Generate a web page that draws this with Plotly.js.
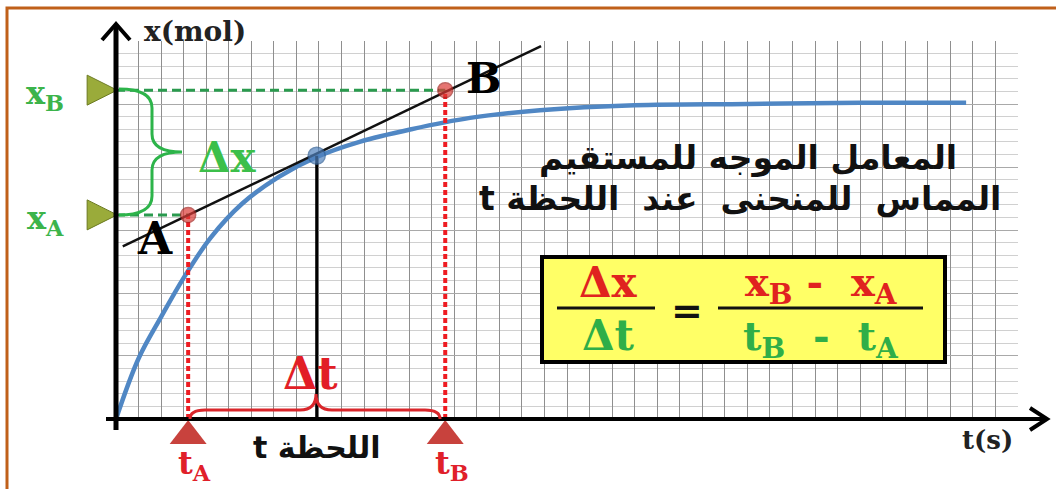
<!DOCTYPE html>
<html>
<head>
<meta charset="utf-8">
<script src="https://cdn.plot.ly/plotly-3.0.1.min.js"></script>
<style>
  html, body { margin: 0; padding: 0; background: #fff; }
  #chart { width: 1056px; height: 489px; }
</style>
</head>
<body>
<div id="chart"></div>
<script>
// values, in grid cells (t: one column, x: one row)
const curveT = [0, 1.0, 2.0, 3.0, 4.2, 5.6, 7.2, 8.9, 10.8, 13.1, 15.7, 18.8, 23.0, 28.0, 33.0, 37.7];
const curveX = [0, 4.8, 8.1, 11.2, 14.4, 17.1, 19.2, 20.8, 22.0, 23.0, 23.9, 24.5, 24.9, 25.0, 25.1, 25.1];

const tangentT = [0.3, 18.85];
const tangentX = [13.7, 29.6];

// A, tangent point, B
const pointT = [3.2, 8.9, 14.6];
const pointX = [16.2, 20.9, 26.1];
const pointColors = ['#dc3b37', '#4f81bd', '#dc3b37'];
const pointSizes = [15, 17, 15];

const gridCols = 40;
const gridRows = 30;

// picture geometry (pixels)
const W = 1056, H = 489;
const OX = 116, OY = 419;       // origin of the grid
const CW = 22.55, CH = 12.6;    // cell size
const tx = px => (px - OX) / CW;
const xy = py => (OY - py) / CH;
const pt = (px, py) => tx(px) + ',' + xy(py);

const SERIF = 'DejaVu Serif, serif';
const ARABIC = 'DejaVu Sans, sans-serif';
const RED = '#e0221f';
const GREEN = '#2fae48';
const NB = '\u00a0';

const tA = pointT[0], tT = pointT[1], tB = pointT[2];
const xA = pointX[0], xT = pointX[1], xB = pointX[2];

const traces = [
  { // the curve x(t)
    x: curveT, y: curveX, xaxis: 'x', yaxis: 'y', mode: 'lines',
    line: { color: '#5087c4', width: 4.5, shape: 'spline', smoothing: 1 },
    hoverinfo: 'skip'
  },
  { // drop from the tangent point
    x: [tT, tT], y: [0, xT], xaxis: 'x2', yaxis: 'y2', mode: 'lines',
    line: { color: '#000', width: 3 }, hoverinfo: 'skip'
  },
  { // dashed drops from A and B
    x: [tA, tA, null, tB, tB], y: [0, xA, null, 0, xB], xaxis: 'x2', yaxis: 'y2', mode: 'lines',
    line: { color: '#ee1c22', width: 4, dash: '5px,3px' }, hoverinfo: 'skip'
  },
  { // dashed projections on the x axis
    x: [0, tA, null, 0, tB], y: [xA, xA, null, xB, xB], xaxis: 'x2', yaxis: 'y2', mode: 'lines',
    line: { color: '#2a9a4e', width: 3, dash: '9px,5px' }, hoverinfo: 'skip'
  },
  { // tangent
    x: tangentT, y: tangentX, xaxis: 'x2', yaxis: 'y2', mode: 'lines',
    line: { color: '#111', width: 2.5 }, hoverinfo: 'skip'
  },
  { // A, tangent point, B
    x: pointT, y: pointX, xaxis: 'x2', yaxis: 'y2', mode: 'markers',
    marker: { color: pointColors, size: pointSizes, line: { color: ['#a52622', '#2f5f96', '#a52622'], width: 1.5 } },
    hoverinfo: 'skip'
  },
  { // red markers under t_A and t_B
    x: [tA, tB], y: [-1.35, -1.35], xaxis: 'x2', yaxis: 'y2', mode: 'markers',
    marker: { symbol: 'triangle-up', size: 32, color: '#c8423d', line: { width: 0 } },
    hoverinfo: 'skip'
  },
  { // olive markers at x_A and x_B
    x: [0.05, 0.05], y: [xA, xB], xaxis: 'x2', yaxis: 'y2', mode: 'markers',
    marker: { symbol: 'arrow-right', size: 30, color: '#9aab3a', line: { color: '#6b7a20', width: 1 } },
    hoverinfo: 'skip'
  }
];

function label(text, x, y, size, color, family, extra) {
  return Object.assign({
    xref: 'x2', yref: 'y2', x: x, y: y, text: text, showarrow: false,
    xanchor: 'center', yanchor: 'middle',
    font: { family: family || SERIF, size: size, color: color, weight: 'bold' }
  }, extra || {});
}

const annotations = [
  label('x(mol)', tx(195), xy(31), 28, '#222'),
  label('t(s)', tx(987), xy(440), 26, '#222'),
  label('x<sub>B</sub>', tx(45), xB, 32, '#3cb44b', SERIF, { yshift: -5 }),
  label('x<sub>A</sub>', tx(45), xA, 32, '#3cb44b', SERIF, { yshift: -5 }),
  label('\u0394x', tx(227), xy(157), 42, '#3cbf4a'),
  label('A', tx(155), xy(238), 44, '#000'),
  label('B', tx(484), xy(78), 42, '#000'),
  label('\u0394t', tx(310), xy(373), 44, '#e21e26'),
  label('t<sub>A</sub>', tA, xy(465), 32, '#e0202a', SERIF, { xshift: 6 }),
  label('t<sub>B</sub>', tB, xy(465), 32, '#e0202a', SERIF, { xshift: 7 }),
  label('\u202Bاللحظة t\u202C', tT, xy(447), 30, '#111', ARABIC),
  label('\u202Bالمعامل الموجه للمستقيم\u202C', tx(748), xy(158), 33, '#111', ARABIC),
  label('\u202Bالمماس  للمنحنى  عند  اللحظة t\u202C', tx(740), xy(198), 33, '#111', ARABIC),
  // formula in the box
  label('\u0394x', tx(608), xy(282), 42, RED),
  label('\u0394t', tx(608), xy(335), 42, GREEN),
  label('=', tx(687), xy(310), 38, '#111'),
  label('x<sub>B</sub>' + NB + '-' + NB + NB + 'x<sub>A</sub>', tx(821), xy(284), 40, RED),
  label('t<sub>B</sub>' + NB + NB + '-' + NB + NB + 't<sub>A</sub>', tx(821), xy(338), 40, GREEN)
];

function seg(x0, y0, x1, y1, color, width) {
  return {
    type: 'line', xref: 'x2', yref: 'y2', layer: 'above',
    x0: tx(x0), y0: xy(y0), x1: tx(x1), y1: xy(y1),
    line: { color: color, width: width }
  };
}

function path(d, color, width) {
  return { type: 'path', xref: 'x2', yref: 'y2', layer: 'above', path: d, line: { color: color, width: width } };
}

const shapes = [
  // outer frame
  { type: 'rect', xref: 'x2', yref: 'y2', layer: 'above',
    x0: tx(7), y0: xy(8), x1: tx(1080), y1: xy(520),
    line: { color: '#c0601a', width: 3 } },
  // axes with open arrow heads
  seg(116, 430, 116, 25, '#000', 5),
  path('M' + pt(102, 40) + ' L' + pt(116, 24) + ' L' + pt(130, 40), '#000', 4),
  seg(106, 419, 1046, 419, '#000', 4),
  path('M' + pt(1030, 408) + ' L' + pt(1047, 419) + ' L' + pt(1030, 430), '#000', 4),
  // brace for delta x
  path('M' + pt(119, 89) + ' Q' + pt(152, 89) + ' ' + pt(152, 108) + ' L' + pt(152, 134) +
       ' Q' + pt(152, 152) + ' ' + pt(182, 152) + ' Q' + pt(152, 152) + ' ' + pt(152, 170) +
       ' L' + pt(152, 196) + ' Q' + pt(152, 215) + ' ' + pt(119, 215), '#2db44a', 3),
  // brace for delta t
  path('M' + pt(190, 419) + ' Q' + pt(190, 410) + ' ' + pt(205, 410) + ' L' + pt(300, 410) +
       ' Q' + pt(316, 410) + ' ' + pt(316, 394) + ' Q' + pt(316, 410) + ' ' + pt(332, 410) +
       ' L' + pt(425, 410) + ' Q' + pt(440, 410) + ' ' + pt(440, 419), '#d9262b', 3),
  // formula box
  { type: 'rect', xref: 'x2', yref: 'y2', layer: 'above',
    x0: tx(542), y0: xy(257), x1: tx(945), y1: xy(362),
    fillcolor: '#ffff66', line: { color: '#000', width: 4 } },
  seg(557, 308, 655, 308, '#111', 3),
  seg(718, 308, 923, 308, '#111', 3)
];

const layout = {
  width: W, height: H, autosize: false,
  margin: { l: 0, r: 0, t: 0, b: 0 },
  paper_bgcolor: '#fff',
  plot_bgcolor: 'rgba(0,0,0,0)',
  showlegend: false,
  xaxis: {
    domain: [OX / W, (OX + gridCols * CW) / W], range: [-0.001, gridCols + 0.001], anchor: 'y',
    dtick: 1, tick0: 0, showgrid: true, gridcolor: '#8f8f8f', gridwidth: 1,
    zeroline: false, showline: false, showticklabels: false, ticks: '', fixedrange: true
  },
  yaxis: {
    domain: [(H - OY) / H, (H - OY + gridRows * CH) / H], range: [-0.001, gridRows + 0.001], anchor: 'x',
    dtick: 5, tick0: 0, showgrid: true, gridcolor: '#a9a9a9', gridwidth: 1,
    minor: { dtick: 1, tick0: 0, showgrid: true, gridcolor: '#d0d0d0', gridwidth: 1 },
    zeroline: false, showline: false, showticklabels: false, ticks: '', fixedrange: true
  },
  xaxis2: { domain: [0, 1], range: [tx(0), tx(W)], anchor: 'y2', visible: false, fixedrange: true },
  yaxis2: { domain: [0, 1], range: [xy(H), xy(0)], anchor: 'x2', visible: false, fixedrange: true },
  shapes: shapes,
  annotations: annotations
};

Plotly.newPlot('chart', traces, layout, { staticPlot: true });
</script>
</body>
</html>
